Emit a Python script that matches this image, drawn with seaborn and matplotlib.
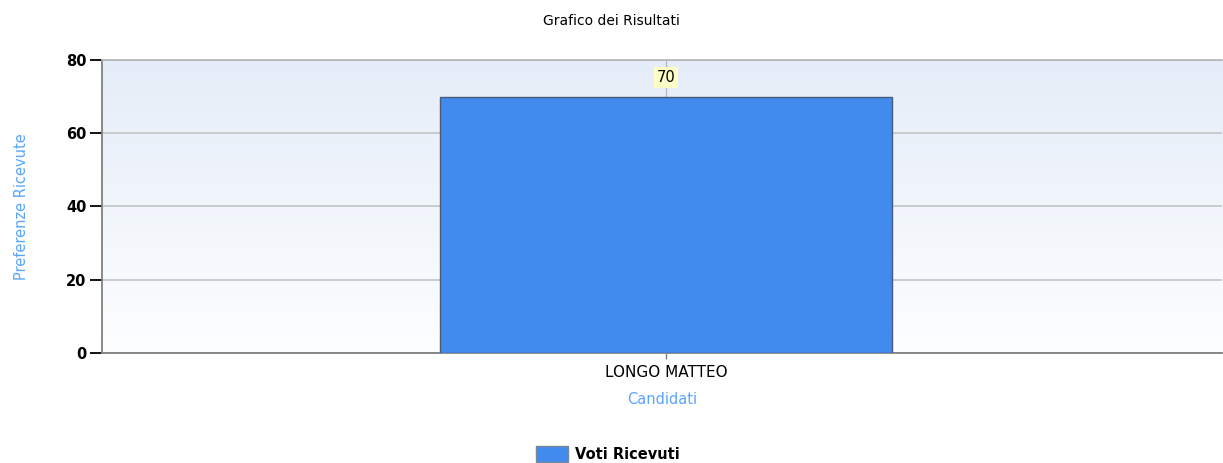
import numpy as np
import pandas as pd
import matplotlib
matplotlib.use("Agg")
import matplotlib.pyplot as plt
import seaborn as sns
from matplotlib.patches import Patch
from matplotlib.colors import LinearSegmentedColormap

categories = ["LONGO MATTEO"]
votes = [70]
series_name = "Voti Ricevuti"
y_ticks = [0, 20, 40, 60, 80]

df = pd.DataFrame({"Candidati": categories, "Voti": votes})

sns.set_style("white")
plt.rcParams["font.family"] = ["DejaVu Sans"]
plt.rcParams["text.color"] = "black"
plt.rcParams["xtick.color"] = "black"
plt.rcParams["ytick.color"] = "black"

fig = plt.figure(figsize=(12.23, 4.63), dpi=100)
ax = fig.add_axes([0.0834, 0.2376, 0.9158, 0.6328])

# gradient background (light blue at top, near white at bottom)
grad = np.linspace(0, 1, 256).reshape(-1, 1)
cmap = LinearSegmentedColormap.from_list("bg", ["#E5EDF8", "#FDFEFF"])
ax.imshow(grad, aspect="auto", cmap=cmap, extent=[0, 1, 0, 1], origin="upper",
          transform=ax.transAxes, zorder=0)

sns.barplot(data=df, x="Candidati", y="Voti", ax=ax, color="#418BEF",
            width=0.404, edgecolor="#4A5A78", linewidth=1.0, saturation=1, zorder=3)

ax.set_xlim(-0.5036, 0.4964)
ax.set_ylim(0, 80)
ax.set_yticks(y_ticks)
ax.yaxis.grid(True, color="#C4C4C4", linewidth=1.2, zorder=1)
ax.xaxis.grid(True, color="#B8B8B8", linewidth=0.9, zorder=1)
ax.set_axisbelow(True)

ax.spines["top"].set_color("#B4B4B4")
ax.spines["top"].set_linewidth(1.2)
ax.spines["right"].set_visible(False)
ax.spines["left"].set_color("#808080")
ax.spines["bottom"].set_color("#808080")
ax.spines["left"].set_linewidth(1.3)
ax.spines["bottom"].set_linewidth(1.3)

ax.tick_params(axis="y", direction="out", length=9, width=1.3, color="black",
               labelsize=10.5, pad=2, left=True)
ax.tick_params(axis="x", direction="out", length=4, width=1.0, color="#808080",
               labelsize=11, pad=5, bottom=True)
for lbl in ax.get_yticklabels():
    lbl.set_fontweight("bold")

ax.set_ylabel("Preferenze Ricevute", color="#5AA5FF", fontsize=10.5, labelpad=27)
ax.set_xlabel("Candidati", color="#5AA5FF", fontsize=10.5, labelpad=8)

for i, v in enumerate(votes):
    ax.annotate(f"{v}", xy=(i, v), xytext=(0, 14), textcoords="offset points",
                ha="center", va="center", fontsize=10.5, zorder=5,
                bbox=dict(boxstyle="square,pad=0.2", fc="#FFFFC8", ec="none"))

fig.suptitle("Grafico dei Risultati", y=0.97, fontsize=10)

handles = [Patch(facecolor="#418BEF", edgecolor="#7A8898", label=series_name)]
leg = fig.legend(handles=handles, loc="lower center", bbox_to_anchor=(0.497, -0.026),
                 frameon=False, prop={"weight": "bold", "size": 10.5},
                 handlelength=2.2, handleheight=1.3, handletextpad=0.45)

fig.savefig("out.png", dpi=100)
